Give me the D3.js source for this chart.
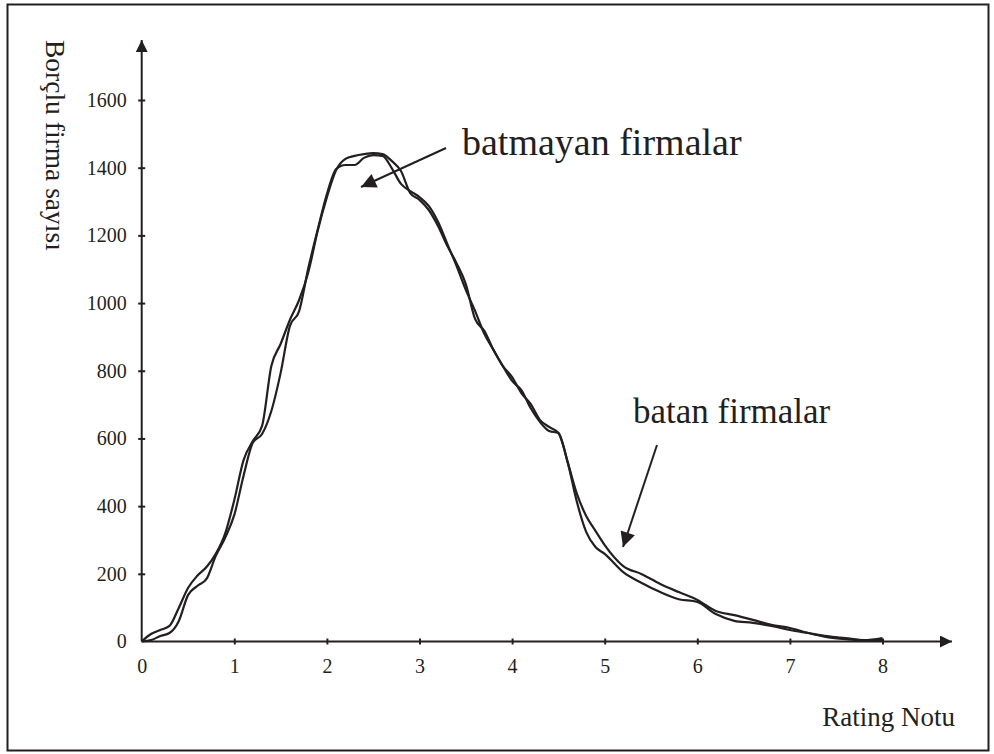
<!DOCTYPE html>
<html lang="tr">
<head>
  <meta charset="utf-8">
  <title>Rating Notu dağılımı</title>
  <script src="https://cdn.jsdelivr.net/npm/d3@7"></script>
  <style>
    body { margin: 0; background: #fff; }
    text { font-family: "Liberation Serif", "Times New Roman", serif; fill: #231f20; }
  </style>
</head>
<body>
<div class="chart"></div>

<script type="text/javascript">

// rating values on the x axis
var ratings = [0, 0.1, 0.2, 0.3, 0.4, 0.5, 0.6, 0.7, 0.8, 0.9,
  1.0, 1.1, 1.2, 1.3, 1.4, 1.5, 1.6, 1.7, 1.8, 1.9,
  2.0, 2.1, 2.2, 2.3, 2.4, 2.5, 2.6, 2.7, 2.8, 2.9,
  3.0, 3.1, 3.2, 3.3, 3.4, 3.5, 3.6, 3.7, 3.8, 3.9,
  4.0, 4.1, 4.2, 4.3, 4.4, 4.5, 4.6, 4.7, 4.8, 4.9,
  5.0, 5.2, 5.4, 5.6, 5.8, 6.0, 6.2, 6.4, 6.6, 6.8,
  7.0, 7.2, 7.4, 7.6, 7.8, 8.0];

// batmayan firmalar
var batmayan = [0, 22, 34, 46, 99, 158, 194, 220, 259, 318,
  418, 536, 592, 637, 814, 879, 950, 1009, 1092, 1213,
  1313, 1393, 1426, 1435, 1440, 1443, 1440, 1420, 1390, 1325,
  1305, 1275, 1228, 1169, 1118, 1056, 953, 918, 861, 814,
  770, 743, 690, 649, 622, 616, 530, 436, 371, 327,
  285, 223, 199, 170, 146, 123, 90, 78, 64, 49,
  40, 25, 13, 7, 4, 4];

// batan firmalar
var batan = [0, 4, 16, 25, 60, 137, 164, 185, 253, 306,
  374, 490, 587, 613, 681, 793, 932, 976, 1104, 1216,
  1322, 1396, 1408, 1408, 1429, 1437, 1435, 1399, 1352, 1331,
  1313, 1287, 1240, 1175, 1110, 1039, 977, 909, 861, 814,
  781, 734, 702, 655, 634, 616, 530, 412, 324, 279,
  259, 205, 173, 146, 125, 117, 81, 61, 55, 46,
  34, 25, 16, 10, 4, 10];

var xTicks = [0, 1, 2, 3, 4, 5, 6, 7, 8];
var yTicks = [0, 200, 400, 600, 800, 1000, 1200, 1400, 1600];

var width = 994,
    height = 754,
    ink = "#231f20";

var svg = d3.select(".chart").append("svg")
    .attr("width", width)
    .attr("height", height);

// frame
svg.append("rect")
    .attr("x", 7.5).attr("y", 4.5)
    .attr("width", 981).attr("height", 746)
    .attr("fill", "none")
    .attr("stroke", ink)
    .attr("stroke-width", 2);

var x = d3.scaleLinear().domain([0, 8]).range([141.7, 882.5]);
var y = d3.scaleLinear().domain([0, 1600]).range([641.5, 100]);

var defs = svg.append("defs");
function addHead(id, w, h) {
  defs.append("marker")
      .attr("id", id)
      .attr("viewBox", "0 0 10 10")
      .attr("refX", 10).attr("refY", 5)
      .attr("markerUnits", "userSpaceOnUse")
      .attr("markerWidth", w).attr("markerHeight", h)
      .attr("orient", "auto")
    .append("path")
      .attr("d", "M0,0 L10,5 L0,10 z")
      .attr("fill", ink);
}
addHead("axishead", 14, 12);
addHead("notehead", 19, 15);

// axis lines with arrows
svg.append("line")
    .attr("x1", x(0)).attr("y1", y(0))
    .attr("x2", 952).attr("y2", y(0))
    .attr("stroke", ink).attr("stroke-width", 2)
    .attr("marker-end", "url(#axishead)");

svg.append("line")
    .attr("x1", x(0)).attr("y1", y(0))
    .attr("x2", x(0)).attr("y2", 40)
    .attr("stroke", ink).attr("stroke-width", 2)
    .attr("marker-end", "url(#axishead)");

var xAxis = svg.append("g")
    .attr("transform", "translate(0," + y(0) + ")")
    .call(d3.axisBottom(x).tickValues(xTicks).tickFormat(d3.format("d")).tickSize(3));
xAxis.select(".domain").remove();
xAxis.selectAll(".tick line").attr("y1", -3).attr("y2", 3).attr("stroke", ink).attr("stroke-width", 2);
xAxis.selectAll(".tick text")
    .attr("y", 31).attr("dy", null)
    .style("font-size", "20px")
    .style("font-family", "Liberation Serif, serif")
    .attr("fill", ink);

var yAxis = svg.append("g")
    .attr("transform", "translate(" + x(0) + ",0)")
    .call(d3.axisLeft(y).tickValues(yTicks).tickFormat(d3.format("d")).tickSize(3));
yAxis.select(".domain").remove();
yAxis.selectAll(".tick line").attr("x1", 3.5).attr("x2", -3.5).attr("stroke", ink).attr("stroke-width", 2);
yAxis.selectAll(".tick text")
    .attr("x", -15).attr("dy", "0.32em")
    .style("font-size", "20px")
    .style("font-family", "Liberation Serif, serif")
    .attr("fill", ink);
yAxis.selectAll(".tick").filter(function(d) { return d === 0; }).select("line").remove();
xAxis.selectAll(".tick").filter(function(d) { return d === 0; }).select("line").remove();

// curves
var line = d3.line()
    .x(function(d) { return x(d[0]); })
    .y(function(d) { return y(d[1]); })
    .curve(d3.curveMonotoneX);

[batmayan, batan].forEach(function(series) {
  svg.append("path")
      .datum(ratings.map(function(r, i) { return [r, series[i]]; }))
      .attr("d", line)
      .attr("fill", "none")
      .attr("stroke", ink)
      .attr("stroke-width", 2.2)
      .attr("stroke-linejoin", "round");
});

// labels
svg.append("text")
    .attr("transform", "translate(46,40) rotate(90)")
    .style("font-size", "27.5px")
    .text("Borçlu firma sayısı");

svg.append("text")
    .attr("x", 955).attr("y", 726)
    .attr("text-anchor", "end")
    .style("font-size", "27px")
    .text("Rating Notu");

svg.append("text")
    .attr("x", 462).attr("y", 155)
    .style("font-size", "38px")
    .text("batmayan firmalar");

svg.append("text")
    .attr("x", 633).attr("y", 423)
    .style("font-size", "35px")
    .text("batan firmalar");

// annotation arrows
svg.append("line")
    .attr("x1", 446).attr("y1", 148)
    .attr("x2", 361).attr("y2", 187)
    .attr("stroke", ink).attr("stroke-width", 2)
    .attr("marker-end", "url(#notehead)");

svg.append("line")
    .attr("x1", 657).attr("y1", 445)
    .attr("x2", 623).attr("y2", 547)
    .attr("stroke", ink).attr("stroke-width", 2)
    .attr("marker-end", "url(#notehead)");

</script>
</body>
</html>
